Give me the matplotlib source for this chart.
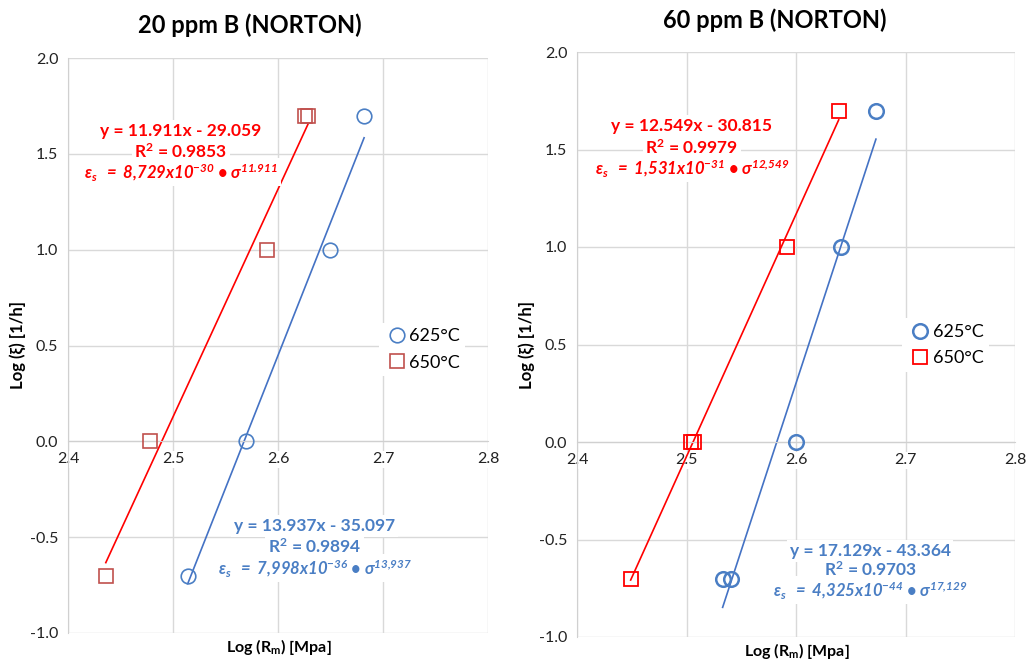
import numpy as np
import matplotlib
matplotlib.use("Agg")
import matplotlib.pyplot as plt
from matplotlib.lines import Line2D

plt.rcParams['font.family'] = ['Lato', 'DejaVu Sans']
plt.rcParams['axes.unicode_minus'] = False
plt.rcParams['mathtext.fontset'] = 'custom'
plt.rcParams['mathtext.rm'] = 'Lato'
plt.rcParams['mathtext.it'] = 'Lato:italic'
plt.rcParams['mathtext.bf'] = 'Lato:bold'
plt.rcParams['mathtext.bfit'] = 'Lato:italic:bold'
plt.rcParams['mathtext.fallback'] = 'stixsans'

# 20 ppm B
x20_625 = [2.514, 2.5695, 2.6495, 2.682]
y20_625 = [-0.7, 0.0, 1.0, 1.7]
x20_650 = [2.436, 2.478, 2.5895, 2.6257, 2.6286]
y20_650 = [-0.7, 0.0, 1.0, 1.7, 1.7]

# 60 ppm B
x60_625 = [2.533, 2.541, 2.600, 2.641, 2.673]
y60_625 = [-0.7, -0.7, 0.0, 1.0, 1.7]
x60_650 = [2.449, 2.504, 2.507, 2.592, 2.639]
y60_650 = [-0.7, 0.0, 0.0, 1.0, 1.7]

titles = ["20 ppm B (NORTON)", "60 ppm B (NORTON)"]
series_labels = ["625°C", "650°C"]

eq20_650 = ["y = 11.911x - 29.059", r"R$^\mathbf{2}$ = 0.9853",
            r"$\mathbfit{\varepsilon_s}$  $\mathbfit{=\ 8{,}729x10^{-30}}$ • $\mathbfit{\sigma^{11.911}}$"]
eq20_625 = ["y = 13.937x - 35.097", r"R$^\mathbf{2}$ = 0.9894",
            r"$\mathbfit{\varepsilon_s}$  $\mathbfit{=\ 7{,}998x10^{-36}}$ • $\mathbfit{\sigma^{13{,}937}}$"]
eq60_650 = ["y = 12.549x - 30.815", r"R$^\mathbf{2}$ = 0.9979",
            r"$\mathbfit{\varepsilon_s}$  $\mathbfit{=\ 1{,}531x10^{-31}}$ • $\mathbfit{\sigma^{12{,}549}}$"]
eq60_625 = ["y = 17.129x - 43.364", r"R$^\mathbf{2}$ = 0.9703",
            r"$\mathbfit{\varepsilon_s}$  $\mathbfit{=\ 4{,}325x10^{-44}}$ • $\mathbfit{\sigma^{17{,}129}}$"]

blue = '#4A7EC4'
blue_line = '#4472C4'
red = '#FF0000'
dark_red = '#C0504D'
grid_c = '#D9D9D9'

fig = plt.figure(figsize=(10.28, 6.6), dpi=100)
ax1 = fig.add_axes([68/1028, 1-633/660, 420/1028, 575/660])
ax2 = fig.add_axes([577/1028, 1-637/660, 438/1028, 585/660])


def trend(ax, x, y, color):
    k, b = np.polyfit(x, y, 1)
    xs = np.array([min(x), max(x)])
    ax.plot(xs, k*xs + b, color=color, lw=1.2, zorder=2)


def setup(ax):
    ax.set_xlim(2.4, 2.8)
    ax.set_ylim(-1.0, 2.0)
    ax.set_xticks([2.4, 2.5, 2.6, 2.7, 2.8])
    ax.set_yticks([-1.0, -0.5, 0.0, 0.5, 1.0, 1.5, 2.0])
    ax.set_xticklabels(["2.4", "2.5", "2.6", "2.7", "2.8"])
    ax.set_yticklabels(["%.1f" % v for v in ax.get_yticks()])
    ax.grid(True, color=grid_c, lw=1.0, zorder=0)
    ax.set_axisbelow(True)
    for s in ['top', 'right']:
        ax.spines[s].set_visible(False)
    ax.spines['left'].set_color('#D0D0D0')
    ax.spines['bottom'].set_color('#D0D0D0')
    ax.spines['bottom'].set_position(('data', 0))
    ax.tick_params(length=0, labelsize=11.5, colors='#222222', pad=7)
    ax.tick_params(axis='x', pad=8)
    for t in ax.get_xticklabels() + ax.get_yticklabels():
        t.set_bbox(dict(fc='white', ec='none', pad=1))


def eq_block(ax, x, ys, lines, color):
    for i, (yy, s) in enumerate(zip(ys, lines)):
        ax.text(x, yy, s, color=color, fontsize=12.5 if i < 2 else 12,
                fontweight='bold', style='italic' if i == 2 else 'normal',
                ha='center', va='center', zorder=4,
                bbox=dict(fc='white', ec='none', pad=2))


# left chart
setup(ax1)
trend(ax1, x20_650, y20_650, red)
trend(ax1, x20_625, y20_625, blue_line)
ax1.plot(x20_625, y20_625, 'o', ms=10.5, mfc='none', mec=blue, mew=1.2, zorder=3)
ax1.plot(x20_650, y20_650, 's', ms=10.5, mfc='none', mec=dark_red, mew=1.2, zorder=3)
eq_block(ax1, 2.5076, [1.62, 1.51, 1.405], eq20_650, red)
eq_block(ax1, 2.635, [-0.443, -0.552, -0.66], eq20_625, blue)
h1 = [Line2D([], [], marker='o', ls='none', ms=10.5, mfc='none', mec=blue, mew=1.2),
      Line2D([], [], marker='s', ls='none', ms=10.5, mfc='none', mec=dark_red, mew=1.2)]
ax1.legend(h1, series_labels, loc='upper left', bbox_to_anchor=(0.718, 0.555),
           frameon=True, facecolor='white', edgecolor='none', framealpha=1,
           fontsize=13, handletextpad=0.0, handlelength=1.4, labelspacing=0.58,
           borderpad=0.3)

# right chart
setup(ax2)
trend(ax2, x60_650, y60_650, red)
trend(ax2, x60_625, y60_625, blue_line)
ax2.plot(x60_625, y60_625, 'o', ms=10.5, mfc='none', mec=blue, mew=1.8, zorder=3)
ax2.plot(x60_650, y60_650, 's', ms=10.5, mfc='none', mec=red, mew=1.3, zorder=3)
eq_block(ax2, 2.505, [1.62, 1.508, 1.405], eq60_650, red)
eq_block(ax2, 2.6676, [-0.559, -0.656, -0.759], eq60_625, blue)
h2 = [Line2D([], [], marker='o', ls='none', ms=10.5, mfc='none', mec=blue, mew=1.8),
      Line2D([], [], marker='s', ls='none', ms=10.5, mfc='none', mec=red, mew=1.3)]
ax2.legend(h2, series_labels, loc='upper left', bbox_to_anchor=(0.722, 0.56),
           frameon=True, facecolor='white', edgecolor='none', framealpha=1,
           fontsize=13, handletextpad=0.0, handlelength=1.4, labelspacing=0.58,
           borderpad=0.3)

# titles and axis labels
fig.text(250/1028, 1-25/660, titles[0], fontsize=17, fontweight='bold',
         ha='center', va='center')
fig.text(775/1028, 1-20/660, titles[1], fontsize=17, fontweight='bold',
         ha='center', va='center')
for xc, yc in [(279, 647), (797, 651)]:
    fig.text(xc/1028, 1-yc/660, r"Log (R$_\mathbf{m}$) [Mpa]", fontsize=11.5,
             fontweight='bold', ha='center', va='center')
for xc in [18, 527]:
    fig.text(xc/1028, 1-345/660, "Log (ξ) [1/h]", fontsize=12,
             fontweight='bold', ha='center', va='center', rotation=90)

fig.savefig("out.png", dpi=100)
